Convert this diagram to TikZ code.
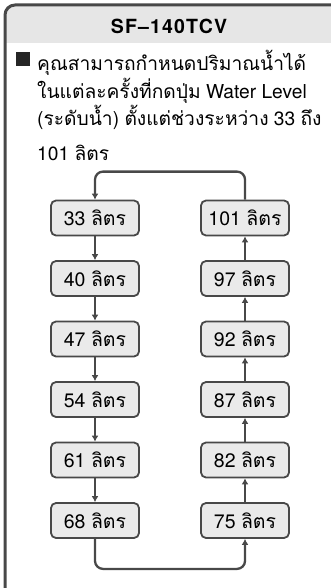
\documentclass[tikz,border=0pt]{standalone}
\usepackage{fontspec}
\setmainfont{TeX Gyre Heros}
\newfontfamily\thaifont[Script=Thai]{Loma}
\newfontfamily\titlefont[LetterSpace=6]{TeX Gyre Heros}
\newcommand{\thai}[1]{{\thaifont #1}}
\usetikzlibrary{arrows.meta}
\definecolor{frame}{RGB}{72,72,72}
\definecolor{boxfill}{RGB}{234,234,234}
\definecolor{head}{RGB}{230,230,230}

\begin{document}
\begin{tikzpicture}[x=1pt,y=-1pt,>={Latex[length=6pt,width=7pt]},
  vol/.style={draw=frame,fill=boxfill,line width=1.8pt,rounded corners=5pt,minimum width=88pt,minimum height=35pt,inner sep=0pt,font=\fontsize{19.5}{23}\selectfont},
  flow/.style={draw=frame,line width=2.3pt},
  body/.style={align=left,inner sep=0pt,font=\fontsize{19.2}{27.5}\selectfont}]
\useasboundingbox (0,0) rectangle (331,588);
% header band and frame
\fill[head] (5.5,43) [rounded corners=9pt] -- (5.5,5.5) [sharp corners] -- (331,5.5) -- (331,43) -- cycle;
\draw[frame,line width=3pt] (5,588) [rounded corners=10pt] -- (5,5) [sharp corners] -- (331,5);
\node[font=\titlefont\bfseries\fontsize{19.5}{23}\selectfont] (title) at (169,26) {SF\textendash 140TCV};
% note
\node[fill=black!85,minimum size=14pt,inner sep=0pt] (bul) at (22.5,59.5) {};
\node[body,anchor=north west] (note) at (37,50) {\thai{คุณสามารถกำหนดปริมาณน้ำได้}\\
  \thai{ในแต่ละครั้งที่กดปุ่ม} Water Level\\
  (\thai{ระดับน้ำ}) \thai{ตั้งแต่ช่วงระหว่าง} 33 \thai{ถึง}\\[7pt]
  101 \thai{ลิตร}};
% volume steps
\foreach \v [count=\i] in {33,40,47,54,61,68}
  \node[vol] (l\i) at (95,{157.5+60.5*\i}) {\v\ \thai{ลิตร}};
\foreach \v [count=\i] in {101,97,92,87,82,75}
  \node[vol] (r\i) at (245,{157.5+60.5*\i}) {\v\ \thai{ลิตร}};
\foreach \a/\b in {l1/l2,l2/l3,l3/l4,l4/l5,l5/l6} \draw[flow,->] (\a) -- (\b);
\foreach \a/\b in {r6/r5,r5/r4,r4/r3,r3/r2,r2/r1} \draw[flow,->] (\a) -- (\b);
\draw[flow,->,rounded corners=8pt] (r1.north) -- ++(0,-28) -| (l1.north);
\draw[flow,->,rounded corners=8pt] (l6.south) -- ++(0,30) -| (r6.south);
\end{tikzpicture}
\end{document}
